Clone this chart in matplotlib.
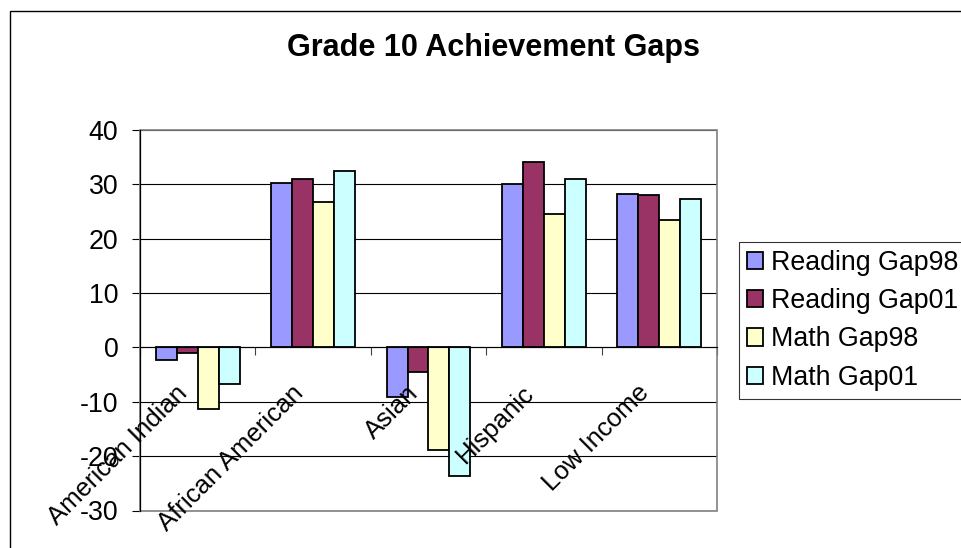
import matplotlib
matplotlib.use("Agg")
import matplotlib.pyplot as plt
from matplotlib.patches import Rectangle
import numpy as np

# data
categories = ["American Indian", "African American", "Asian", "Hispanic", "Low Income"]
reading_gap98 = [-2.3, 30.2, -9.1, 30.0, 28.3]
reading_gap01 = [-1.0, 30.9, -4.5, 34.2, 28.0]
math_gap98 = [-11.3, 26.7, -18.9, 24.6, 23.4]
math_gap01 = [-6.7, 32.5, -23.7, 30.9, 27.3]
series_names = ["Reading Gap98", "Reading Gap01", "Math Gap98", "Math Gap01"]
series_colors = ["#9999FF", "#993366", "#FFFFCC", "#CCFFFF"]
y_ticks = [-30, -20, -10, 0, 10, 20, 30, 40]

plt.rcParams['font.family'] = ['Liberation Sans', 'DejaVu Sans']

W, H = 962, 548
fs = 19.3
fig = plt.figure(figsize=(W / 100, H / 100), dpi=100)

# outer chart border (only left and top are visible in the reference)
fig.patches.append(Rectangle((10 / W, -0.1), 1.2, 1.1 - 11 / H,
                             transform=fig.transFigure, fill=False,
                             edgecolor='black', lw=1.0))

ax = fig.add_axes([140 / W, 1 - 510.5 / H, (717 - 140) / W, (510.5 - 130) / H])

x = np.arange(len(categories))
bar_w = 1 / 5.5
all_series = [reading_gap98, reading_gap01, math_gap98, math_gap01]
for i, (vals, name, col) in enumerate(zip(all_series, series_names, series_colors)):
    ax.bar(x + (i - 1.5) * bar_w, vals, width=bar_w, color=col,
           edgecolor='black', linewidth=1.3, label=name, zorder=3)

ax.set_xlim(-0.5, len(categories) - 0.5)
ax.set_ylim(-30, 40)
ax.set_yticks(y_ticks)
ax.set_yticklabels([str(t) for t in y_ticks], fontsize=fs)
ax.yaxis.grid(True, color='black', lw=0.8, zorder=1)
ax.tick_params(axis='y', direction='out', length=6, width=0.8, pad=9.5)

# category axis crosses at zero
ax.spines['bottom'].set_position(('data', 0))
ax.spines['bottom'].set_zorder(4)
ax.set_xticks(np.arange(len(categories) + 1) - 0.5)
ax.set_xticklabels([])
ax.tick_params(axis='x', direction='out', length=6, width=0.8, color='#404040')
for s in ['top', 'right']:
    ax.spines[s].set_visible(False)
ax.spines['left'].set_linewidth(0.9)

# gray plot area frame
ax.add_patch(Rectangle((0, 0), 1, 1, transform=ax.transAxes, fill=False,
                       edgecolor='#808080', lw=1.2, zorder=2, clip_on=False))

for i, cat in enumerate(categories):
    ax.annotate(cat, xy=(i, 0), xytext=(-16, -24), textcoords='offset points',
                ha='right', va='top', rotation=45, rotation_mode='anchor',
                fontsize=18.5, zorder=5, annotation_clip=False)

fig.text(494 / W, 1 - 48 / H, "Grade 10 Achievement Gaps", ha='center', va='center',
         fontsize=22, fontweight='bold')

leg = ax.legend(loc='upper left', bbox_to_anchor=(738.7 / W, 1 - 241.7 / H),
                bbox_transform=fig.transFigure, borderaxespad=0, fontsize=fs,
                frameon=True, fancybox=False, edgecolor='black',
                handlelength=0.62, handleheight=0.62, handletextpad=0.3,
                labelspacing=0.46, borderpad=0.3)
leg.get_frame().set_linewidth(0.8)
for p in leg.get_patches():
    p.set_linewidth(1.3)

fig.savefig("out.png", dpi=100)
